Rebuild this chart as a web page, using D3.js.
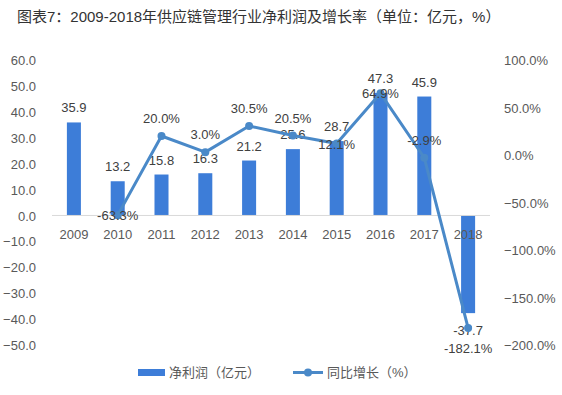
<!DOCTYPE html>
<meta charset="utf-8">
<style>
body { margin: 0; background: #fff; }
svg text { font-family: "Liberation Sans", Arial, "Noto Sans CJK SC", sans-serif; }
.title { font-size: 15px; fill: #333; }
.tick text { font-size: 13px; fill: #595959; }
.lbl { font-size: 13px; fill: #404040; }
.legend text { font-size: 13px; fill: #595959; }
</style>
<body>
<script src="https://d3js.org/d3.v7.min.js"></script>
<script>
var years = ["2009","2010","2011","2012","2013","2014","2015","2016","2017","2018"];
var profit = [35.9, 13.2, 15.8, 16.3, 21.2, 25.6, 28.7, 47.3, 45.9, -37.7];
var growth = [null, -63.3, 20.0, 3.0, 30.5, 20.5, 12.1, 64.9, -2.9, -182.1];
// where each growth label sits relative to its point
var growthLabelPos = ["", "center", "above", "above", "above", "above", "center", "center", "above", "below"];
var leftTicks = [-50, -40, -30, -20, -10, 0, 10, 20, 30, 40, 50, 60];
var rightTicks = [-200, -150, -100, -50, 0, 50, 100];

var width = 562, height = 395;
var barColor = "#3d7dd8", lineColor = "#4a89c8";

var svg = d3.select("body").append("svg")
    .attr("width", width)
    .attr("height", height);

svg.append("text")
    .attr("class", "title")
    .attr("x", 17)
    .attr("y", 22)
    .text("图表7：2009-2018年供应链管理行业净利润及增长率（单位：亿元，%）");

var x = d3.scaleBand()
    .domain(years)
    .range([52, 490])
    .paddingInner(0.68)
    .paddingOuter(0.34);

var y = d3.scaleLinear().domain([-50, 60]).range([345, 60]);
var y2 = d3.scaleLinear().domain([-200, 100]).range([345, 60]);

// left axis
var yAxis = svg.append("g")
    .attr("transform", "translate(40,0)")
    .call(d3.axisLeft(y).tickValues(leftTicks).tickFormat(d3.format(".1f")).tickSize(0).tickPadding(4));
yAxis.select(".domain").remove();
yAxis.selectAll(".tick text").attr("dy", "0.35em").attr("x", -4);

// right axis
var y2Axis = svg.append("g")
    .attr("transform", "translate(500,0)")
    .call(d3.axisRight(y2).tickValues(rightTicks).tickFormat(function(d) { return d3.format(".1f")(d) + "%"; }).tickSize(0).tickPadding(4));
y2Axis.select(".domain").remove();
y2Axis.selectAll(".tick text").attr("dy", "0.35em");

// bars
svg.append("g").selectAll("rect")
    .data(profit)
  .enter().append("rect")
    .attr("x", function(d, i) { return x(years[i]); })
    .attr("width", x.bandwidth())
    .attr("y", function(d) { return y(Math.max(0, d)); })
    .attr("height", function(d) { return Math.abs(y(d) - y(0)); })
    .attr("fill", barColor);

// zero line
svg.append("line")
    .attr("x1", 52).attr("x2", 490)
    .attr("y1", y(0)).attr("y2", y(0))
    .attr("stroke", "#d9d9d9")
    .attr("stroke-width", 1);

// category labels
svg.append("g").selectAll("text")
    .data(years)
  .enter().append("text")
    .attr("class", "lbl")
    .attr("x", function(d) { return x(d) + x.bandwidth() / 2; })
    .attr("y", 239)
    .attr("text-anchor", "middle")
    .style("fill", "#595959")
    .text(function(d) { return d; });

// bar value labels
svg.append("g").selectAll("text")
    .data(profit)
  .enter().append("text")
    .attr("class", "lbl")
    .attr("x", function(d, i) { return x(years[i]) + x.bandwidth() / 2; })
    .attr("y", function(d) { return d >= 0 ? y(d) - 10 : y(d) + 22; })
    .attr("text-anchor", "middle")
    .text(function(d) { return d.toFixed(1); });

// growth line
var pts = growth.map(function(d, i) { return { year: years[i], v: d, pos: growthLabelPos[i] }; })
    .filter(function(d) { return d.v !== null; });

var line = d3.line()
    .x(function(d) { return x(d.year) + x.bandwidth() / 2; })
    .y(function(d) { return y2(d.v); });

svg.append("path")
    .datum(pts)
    .attr("d", line)
    .attr("fill", "none")
    .attr("stroke", lineColor)
    .attr("stroke-width", 3)
    .attr("stroke-linejoin", "round");

svg.append("g").selectAll("circle")
    .data(pts)
  .enter().append("circle")
    .attr("cx", function(d) { return x(d.year) + x.bandwidth() / 2; })
    .attr("cy", function(d) { return y2(d.v); })
    .attr("r", 4)
    .attr("fill", lineColor);

svg.append("g").selectAll("text")
    .data(pts)
  .enter().append("text")
    .attr("class", "lbl")
    .attr("x", function(d) { return x(d.year) + x.bandwidth() / 2; })
    .attr("y", function(d) {
      var p = y2(d.v);
      if (d.pos === "above") return p - 13;
      if (d.pos === "below") return p + 25;
      return p + 5;
    })
    .attr("text-anchor", "middle")
    .text(function(d) { return d.v.toFixed(1) + "%"; });

// legend
var legend = svg.append("g").attr("class", "legend");
legend.append("rect")
    .attr("x", 138).attr("y", 369)
    .attr("width", 27).attr("height", 7)
    .attr("fill", barColor);
legend.append("text")
    .attr("x", 169).attr("y", 377)
    .text("净利润（亿元）");
legend.append("line")
    .attr("x1", 293).attr("x2", 323)
    .attr("y1", 372.5).attr("y2", 372.5)
    .attr("stroke", lineColor)
    .attr("stroke-width", 3);
legend.append("circle")
    .attr("cx", 308).attr("cy", 372.5)
    .attr("r", 4)
    .attr("fill", lineColor);
legend.append("text")
    .attr("x", 327).attr("y", 377)
    .text("同比增长（%）");
</script>
